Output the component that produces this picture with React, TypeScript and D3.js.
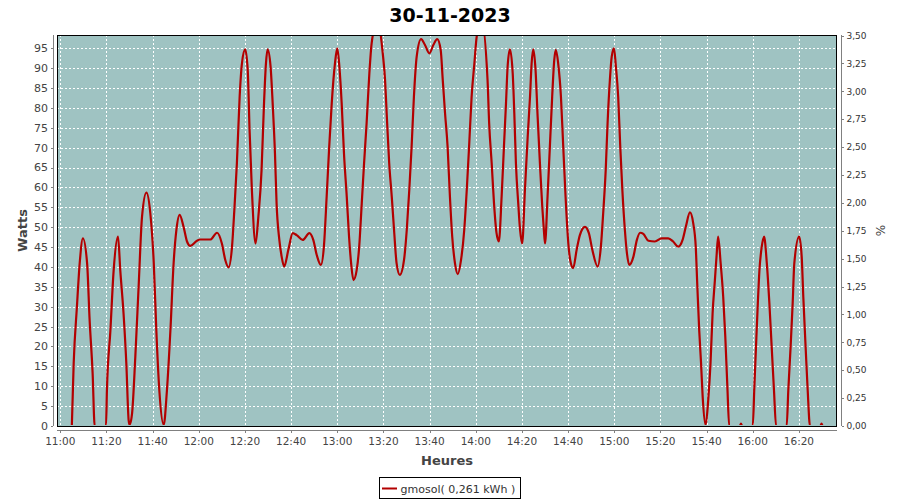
import React from "react";
import * as d3 from "d3";

// ---- data ----
const title = "30-11-2023";
const startTime = "2023-11-30T11:00:00";
// minutes after 11:00
const minutes = [
  5.0, 5.8, 7.2, 8.4, 9.8, 11.6, 12.7, 14.0, 14.9, 19.8, 20.2, 21.7, 23.1, 25.0, 26.0, 27.4, 28.6, 29.6, 30.0,
  31.1, 32.5, 34.0, 35.4, 37.3, 39.0, 40.5, 41.6, 42.9, 44.8, 46.2, 47.7, 49.1, 50.3, 51.7, 53.4, 54.9, 56.3,
  59.2, 60.6, 65.0, 67.9, 70.0, 71.5, 72.9, 74.4, 75.4, 76.5, 77.7, 78.7, 80.1, 81.2, 82.0, 83.0, 84.6, 85.8,
  87.2, 88.2, 89.1, 89.8, 91.1, 92.0, 93.0, 93.7, 94.9, 95.9, 97.0, 98.8, 100.7, 102.4, 105.0, 107.9, 109.6,
  111.1, 112.9, 114.2, 115.4, 116.5, 117.6, 119.0, 120.0, 120.9, 121.9, 122.9, 124.1, 125.1, 126.0, 127.0,
  128.4, 129.5, 130.6, 131.6, 132.7, 133.9, 134.9, 137.4, 139.7, 140.7, 141.4, 142.5, 143.6, 144.6, 145.7,
  147.1, 148.9, 150.1, 151.2, 152.2, 153.2, 154.4, 156.3, 158.0, 159.9, 161.6, 163.3, 164.8, 165.7, 166.7,
  167.8, 168.8, 169.8, 171.0, 172.2, 173.6, 175.0, 176.1, 177.1, 178.2, 179.4, 180.4, 182.5, 185.1, 185.8,
  186.9, 187.9, 189.0, 190.0, 191.2, 192.2, 193.1, 193.8, 194.8, 196.0, 196.7, 197.4, 198.4, 199.2, 200.1,
  201.3, 202.5, 203.5, 204.2, 204.9, 205.9, 206.8, 207.8, 208.8, 209.5, 210.0, 211.1, 212.1, 213.1, 214.0,
  214.7, 215.7, 216.9, 217.9, 218.9, 220.1, 221.2, 222.2, 223.7, 225.1, 227.3, 229.0, 230.5, 232.8, 234.2,
  235.2, 236.3, 237.1, 238.1, 238.9, 239.9, 240.7, 241.7, 242.6, 243.5, 244.6, 245.5, 246.5, 248.3, 249.8,
  251.2, 252.6, 254.8, 257.6, 260.5, 263.4, 265.5, 267.7, 269.6, 271.0, 272.8, 274.2, 275.3, 276.0, 276.8,
  277.6, 278.3, 279.6, 280.7, 281.7, 282.6, 283.6, 284.3, 285.0, 286.1, 287.2, 288.1, 289.0, 289.8, 294.4,
  294.9, 295.4, 300.0, 300.7, 301.4, 302.2, 302.9, 303.9, 304.9, 306.1, 307.2, 308.2, 309.2, 310.1, 314.7,
  315.4, 316.4, 317.3, 318.0, 320.1, 321.2, 321.9, 322.9, 323.8, 324.8, 329.3, 329.8, 330.3, 335.0,
];
const watts = [
  0, 15.8, 30, 40.9, 47.2, 41, 26.7, 13.3, 0, 0, 9, 24, 39, 47.6, 39, 28.3, 15.8, 1.5, 0.3,
  3.2, 17.4, 35.9, 52.6, 58.7, 53.5, 40.9, 24.1, 9, 0.3, 9, 24, 41, 49.3, 53.1, 50.1, 46.4, 45.3,
  46.6, 46.9, 46.9, 48.6, 45.9, 41.7, 39.9, 45.1, 54.3, 66, 82.8, 91.2, 94.7, 89.5, 74.4, 59.4, 45.9, 52.6,
  64.4, 80.3, 91.2, 94.7, 90.4, 81.2, 68.6, 56.0, 46.8, 42.6, 40.1, 44.3, 48.5, 48.0, 46.8, 48.5, 46.8,
  43, 40.5, 45.1, 57.7, 70.2, 81.2, 91.2, 95, 90.4, 81.2, 68.6, 57.7, 47.6, 40.9, 36.7,
  39.2, 45.1, 56, 66, 76.1, 88.7, 96.3, 102, 93.7, 87, 78.6, 66, 57.7, 49.3, 40.9,
  38, 41.7, 49.3, 59.4, 70.2, 82.8, 92.9, 97.3, 95.8, 93.7, 95.8, 97.3, 94.6, 87, 78.6,
  70.2, 57.7, 47.6, 40.9, 38.2, 41.7, 49.3, 59.4, 70.2, 82.8, 91.2, 97.9, 102, 87, 76.1,
  66, 56, 48.5, 46.4, 57.7, 70.2, 81.2, 90.4, 94.7, 88.7, 78.6, 66, 56, 49.3, 45.9,
  59.4, 72.8, 82.8, 91.2, 94.7, 89.5, 77.8, 66, 55.2, 49.3, 45.9, 57.7, 70.2, 82.8, 92,
  94.6, 91.2, 82.8, 70.2, 57.7, 45.9, 40.9, 39.7, 44.3, 48, 50.1, 48.5, 44.3, 40.1, 45.1,
  53.5, 64.4, 76.1, 87, 92.9, 95, 90.4, 82.8, 70.2, 59.4, 49.3, 43.4, 40.5, 42.6, 46.8,
  48.6, 48.3, 46.6, 46.4, 47.2, 47.2, 46.4, 45.1, 46.8, 50.1, 53.7, 51, 45.1, 35, 24.1,
  15.8, 7.4, 0.25, 6.5, 15.8, 28.3, 36.7, 42.6, 47.6, 40.9, 32.5, 22.5, 9.9, 0, 0,
  0.6, 0, 0, 9.9, 19.9, 30.9, 39.2, 45.1, 47.6, 40.9, 30.9, 19.9, 9, 0, 0,
  9, 19.9, 30.9, 40.9, 47.6, 42.6, 32.5, 19.9, 9, 0, 0, 0.6, 0, 0,
];
const leftTicks = [0, 5, 10, 15, 20, 25, 30, 35, 40, 45, 50, 55, 60, 65, 70, 75, 80, 85, 90, 95];
const rightTicks = [0, 0.25, 0.5, 0.75, 1, 1.25, 1.5, 1.75, 2, 2.25, 2.5, 2.75, 3, 3.25, 3.5];
const xTickLabels = ["11:00", "11:20", "11:40", "12:00", "12:20", "12:40", "13:00", "13:20", "13:40", "14:00", "14:20", "14:40", "15:00", "15:20", "15:40", "16:00", "16:20"];
const leftAxisLabel = "Watts";
const rightAxisLabel = "%";
const xAxisLabel = "Heures";
const legendLabel = "gmosol( 0,261 kWh )";

// ---- layout ----
const W = 900, H = 500;
const PL = 57, PR = 837, PT = 35, PB = 426;
const FONT = "'DejaVu Sans', sans-serif";
const LINE = "#b30000";

export default function App() {
  const t0 = new Date(startTime);
  const toDate = (m: number) => new Date(t0.getTime() + m * 60000);
  const x = d3.scaleTime()
    .domain([toDate(-1.43), toDate(336.5)])
    .range([PL, PR]);
  const y = d3.scaleLinear().domain([0, 98.33]).range([PB, PT]);
  const yR = d3.scaleLinear().domain([0, 3.5]).range([PB, PT + 0.5]);

  const pts = minutes.map((m, i) => ({ d: toDate(m), v: watts[i] }));
  const line = d3.line<{ d: Date; v: number }>()
    .x((p) => x(p.d))
    .y((p) => y(p.v))
    .curve(d3.curveMonotoneX);

  const xTicks = xTickLabels.map((lab) => {
    const [h, mm] = lab.split(":").map(Number);
    const d = new Date(t0);
    d.setHours(h, mm, 0, 0);
    return { lab, px: x(d) };
  });
  const fmtR = (v: number) => v.toFixed(2).replace(".", ",");
  const cy = (PT + PB) / 2;

  return (
    <svg width={W} height={H} style={{ position: "absolute", left: 0, top: 0, background: "#fff" }} fontFamily={FONT}>
      <defs>
        <clipPath id="plotClip">
          <rect x={PL} y={PT} width={PR - PL} height={PB - PT - 1} />
        </clipPath>
      </defs>
      <text x={450} y={22} textAnchor="middle" fontSize={19} fontWeight="bold" fill="#000">{title}</text>

      {/* plot background */}
      <rect x={PL} y={PT} width={PR - PL} height={PB - PT} fill="#9fc3c2" />
      {/* grid */}
      <g stroke="#fff" strokeWidth={1} strokeDasharray="2,2" shapeRendering="crispEdges">
        {leftTicks.map((v) => (
          <line key={"h" + v} x1={PL} x2={PR} y1={Math.round(y(v)) + 0.5} y2={Math.round(y(v)) + 0.5} />
        ))}
        {xTicks.map((t) => (
          <line key={"v" + t.lab} x1={Math.round(t.px) + 0.5} x2={Math.round(t.px) + 0.5} y1={PT} y2={PB} />
        ))}
      </g>

      {/* series */}
      <path d={line(pts) || ""} fill="none" stroke={LINE} strokeWidth={2.2} clipPath="url(#plotClip)" strokeLinejoin="round" />

      {/* plot border */}
      <rect x={PL + 0.5} y={PT + 0.5} width={PR - PL - 1} height={PB - PT} fill="none" stroke="#000" strokeWidth={1} shapeRendering="crispEdges" />

      {/* left axis */}
      <g shapeRendering="crispEdges">
        <line x1={53.5} x2={53.5} y1={PT} y2={PB} stroke="#808080" />
        {leftTicks.map((v) => (
          <line key={"lt" + v} x1={51} x2={53} y1={Math.round(y(v)) + 0.5} y2={Math.round(y(v)) + 0.5} stroke="#808080" />
        ))}
      </g>
      {leftTicks.map((v) => (
        <text key={"ll" + v} x={48} y={y(v)} dy="0.36em" textAnchor="end" fontSize={11} fill="#444">{v}</text>
      ))}
      <text transform={`translate(27,${cy}) rotate(-90)`} textAnchor="middle" fontSize={13} fontWeight="bold" fill="#444">{leftAxisLabel}</text>

      {/* right axis */}
      <g shapeRendering="crispEdges">
        <line x1={841.5} x2={841.5} y1={PT} y2={PB} stroke="#808080" />
        {rightTicks.map((v) => (
          <line key={"rt" + v} x1={842} x2={844} y1={Math.round(yR(v)) + 0.5} y2={Math.round(yR(v)) + 0.5} stroke="#808080" />
        ))}
      </g>
      {rightTicks.map((v) => (
        <text key={"rl" + v} x={846.5} y={yR(v)} dy="0.36em" textAnchor="start" fontSize={9} fill="#333">{fmtR(v)}</text>
      ))}
      <text transform={`translate(885,${cy}) rotate(-90)`} textAnchor="middle" fontSize={12} fill="#444">{rightAxisLabel}</text>

      {/* bottom axis */}
      <g shapeRendering="crispEdges">
        <line x1={PL} x2={PR} y1={430.5} y2={430.5} stroke="#808080" />
        {xTicks.map((t) => (
          <line key={"bt" + t.lab} x1={Math.round(t.px) + 0.5} x2={Math.round(t.px) + 0.5} y1={431} y2={433} stroke="#808080" />
        ))}
      </g>
      {xTicks.map((t) => (
        <text key={"bl" + t.lab} x={t.px} y={445} textAnchor="middle" fontSize={10.5} fill="#444">{t.lab}</text>
      ))}
      <text x={(PL + PR) / 2} y={465} textAnchor="middle" fontSize={13} fontWeight="bold" fill="#444">{xAxisLabel}</text>

      {/* legend */}
      <rect x={379.5} y={477.5} width={141} height={21} fill="#fff" stroke="#000" shapeRendering="crispEdges" />
      <line x1={382} x2={397} y1={488.5} y2={488.5} stroke={LINE} strokeWidth={2} />
      <text x={400.5} y={492.5} fontSize={11} fill="#333">{legendLabel}</text>
    </svg>
  );
}
